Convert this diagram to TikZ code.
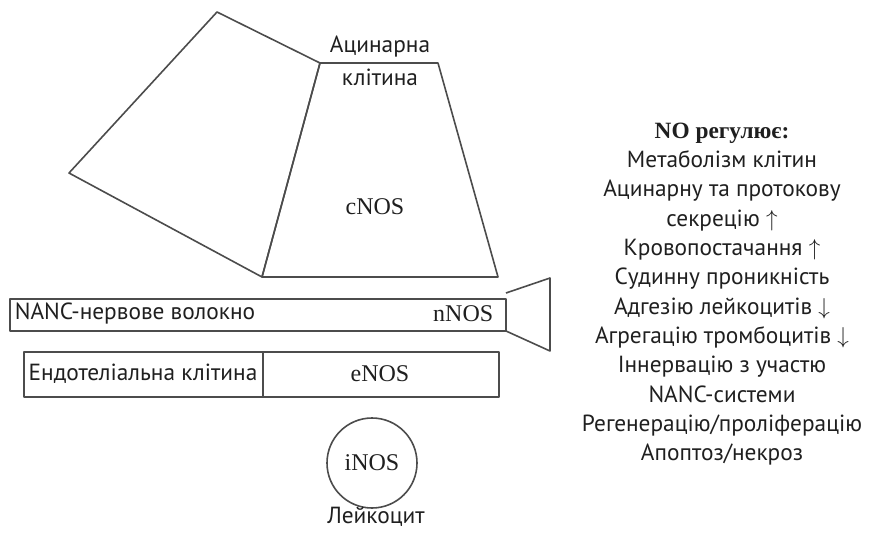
\documentclass[tikz,border=0pt]{standalone}
\usepackage{fontspec}
\setmainfont{PT Sans}
\newfontfamily\nosfont{Liberation Serif}
\begin{document}
\begin{tikzpicture}[x=0.75pt,y=-0.75pt,line width=1.2pt,line join=round,
  cell/.style={draw=black!70},
  lbl/.style={font=\fontsize{17.5}{22}\selectfont,text=black!88,inner sep=0pt},
  nos/.style={lbl,font=\fontsize{18}{22}\selectfont\nosfont}]
  \useasboundingbox (0,0) rectangle (874,532);
  % acinar cells
  \draw[cell] (217,12) -- (320,63) -- (262,277) -- (69,173) -- cycle;
  \draw[cell] (320,63) -- (438,63) -- (498,277) -- (262,277) -- cycle;
  \node[lbl] (acin) at (380,47) {Ацинарна};
  \node[lbl] (acincell) at (380,77) {клітина};
  \node[nos] (cnos) at (375,207) {cNOS};
  % nerve fibre with ending
  \draw[cell] (10,299) rectangle (506,331);
  \draw[cell] (506,293) -- (550,278) -- (550,351) -- (506,331);
  \node[lbl,anchor=west] (nerve) at (14,314) {NANC-нервове волокно};
  \node[nos,anchor=east] (nnos) at (494,314) {nNOS};
  % endothelium
  \draw[cell] (24,352) rectangle (499,397);
  \draw[cell] (263,352) -- (263,397);
  \node[lbl] (endo) at (143,374) {Ендотеліальна клітина};
  \node[nos] (enos) at (380,374) {eNOS};
  % leukocyte
  \draw[cell] (372,463) circle[radius=45];
  \node[nos] (inos) at (372,463) {iNOS};
  \node[lbl] (leuk) at (376,517) {Лейкоцит};
  % effects of NO
  \node[lbl,align=center,anchor=north] (effects) at (722,122) {%
    {\nosfont\bfseries NO регулює:}\\
    Метаболізм клітин\\
    Ацинарну та протокову\\
    секрецію $\uparrow$\\
    Кровопостачання $\uparrow$\\
    Судинну проникність\\
    Адгезію лейкоцитів $\downarrow$\\
    Агрегацію тромбоцитів $\downarrow$\\
    Іннервацію з участю\\
    NANC-системи\\
    Регенерацію/проліферацію\\
    Апоптоз/некроз};
\end{tikzpicture}
\end{document}
